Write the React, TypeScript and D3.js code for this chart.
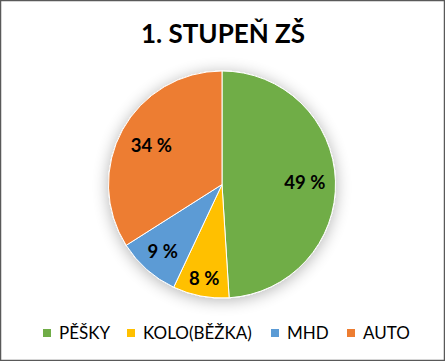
import React, { useEffect, useRef } from 'react'
import * as d3 from 'd3'

// data
const categories = ['PĚŠKY', 'KOLO(BĚŽKA)', 'MHD', 'AUTO']
const values = [49, 8, 9, 34]
const colors = ['#70AD47', '#FFC000', '#5B9BD5', '#ED7D31']
const title = '1. STUPEŇ ZŠ'

const App = () => {
  const ref = useRef<SVGSVGElement>(null)

  useEffect(() => {
    const width = 445
    const height = 361
    const svg = d3.select(ref.current)
    svg.selectAll('*').remove()

    const font = 'Lato, "Open Sans", sans-serif'

    // background + frame
    svg
      .append('rect')
      .attr('x', 0.5)
      .attr('y', 0.5)
      .attr('width', width - 1)
      .attr('height', height - 1)
      .attr('fill', '#fff')
      .attr('stroke', '#595959')
      .attr('stroke-width', 1.5)

    // shadow filter
    const defs = svg.append('defs')
    const filter = defs
      .append('filter')
      .attr('id', 'pieShadow')
      .attr('x', '-30%')
      .attr('y', '-30%')
      .attr('width', '160%')
      .attr('height', '160%')
    filter
      .append('feGaussianBlur')
      .attr('in', 'SourceAlpha')
      .attr('stdDeviation', 8)
      .attr('result', 'blur')
    filter
      .append('feOffset')
      .attr('in', 'blur')
      .attr('dx', 0)
      .attr('dy', 2)
      .attr('result', 'off')
    filter
      .append('feComponentTransfer')
      .attr('in', 'off')
      .attr('result', 'shadow')
      .append('feFuncA')
      .attr('type', 'linear')
      .attr('slope', 0.3)
    const merge = filter.append('feMerge')
    merge.append('feMergeNode').attr('in', 'shadow')
    merge.append('feMergeNode').attr('in', 'SourceGraphic')

    // title
    svg
      .append('text')
      .text(title)
      .attr('x', 223)
      .attr('y', 43)
      .attr('text-anchor', 'middle')
      .style('font-family', font)
      .style('font-weight', 'bold')
      .style('font-size', '26px')
      .attr('fill', '#000')

    // pie
    const cx = 222
    const cy = 184.5
    const r = 113.5
    const pie = d3
      .pie<number>()
      .sort(null)
      .value((d) => d)
    const arcs = pie(values)
    const arc = d3.arc<d3.PieArcDatum<number>>().innerRadius(0).outerRadius(r)
    // small slices get their labels pushed outward (best fit)
    const labelR = [0.73, 0.84, 0.79, 0.71]

    const g = svg.append('g').attr('transform', `translate(${cx},${cy})`)
    g.append('g')
      .attr('filter', 'url(#pieShadow)')
      .selectAll('path')
      .data(arcs)
      .enter()
      .append('path')
      .attr('d', arc)
      .attr('fill', (d, i) => colors[i])
      .attr('stroke', '#fff')
      .attr('stroke-width', 1)

    g.selectAll('.lbl')
      .data(arcs)
      .enter()
      .append('text')
      .attr('class', 'lbl')
      .text((d) => d.data + ' %')
      .attr('transform', (d, i) => {
        const c = d3
          .arc<d3.PieArcDatum<number>>()
          .innerRadius(r * labelR[i])
          .outerRadius(r * labelR[i])
          .centroid(d)
        return `translate(${c[0]},${c[1]})`
      })
      .attr('text-anchor', 'middle')
      .attr('dy', '0.36em')
      .style('font-family', font)
      .style('font-weight', 'bold')
      .style('font-size', '18.5px')
      .attr('fill', '#000')

    // legend
    const legendX = [43, 127, 271, 347]
    const legend = svg
      .selectAll('.legend')
      .data(categories)
      .enter()
      .append('g')
      .attr('class', 'legend')
      .attr('transform', (d, i) => `translate(${legendX[i]},333)`)
    legend
      .append('rect')
      .attr('x', 0)
      .attr('y', -4)
      .attr('width', 8)
      .attr('height', 8)
      .attr('fill', (d, i) => colors[i])
    legend
      .append('text')
      .text((d) => d)
      .attr('x', 16)
      .attr('y', 0)
      .attr('dy', '0.36em')
      .style('font-family', font)
      .style('font-size', '17px')
      .attr('fill', '#000')
  }, [])

  return (
    <svg
      ref={ref}
      width={445}
      height={361}
      style={{ position: 'absolute', left: 0, top: 0, display: 'block' }}
    ></svg>
  )
}

export default App
